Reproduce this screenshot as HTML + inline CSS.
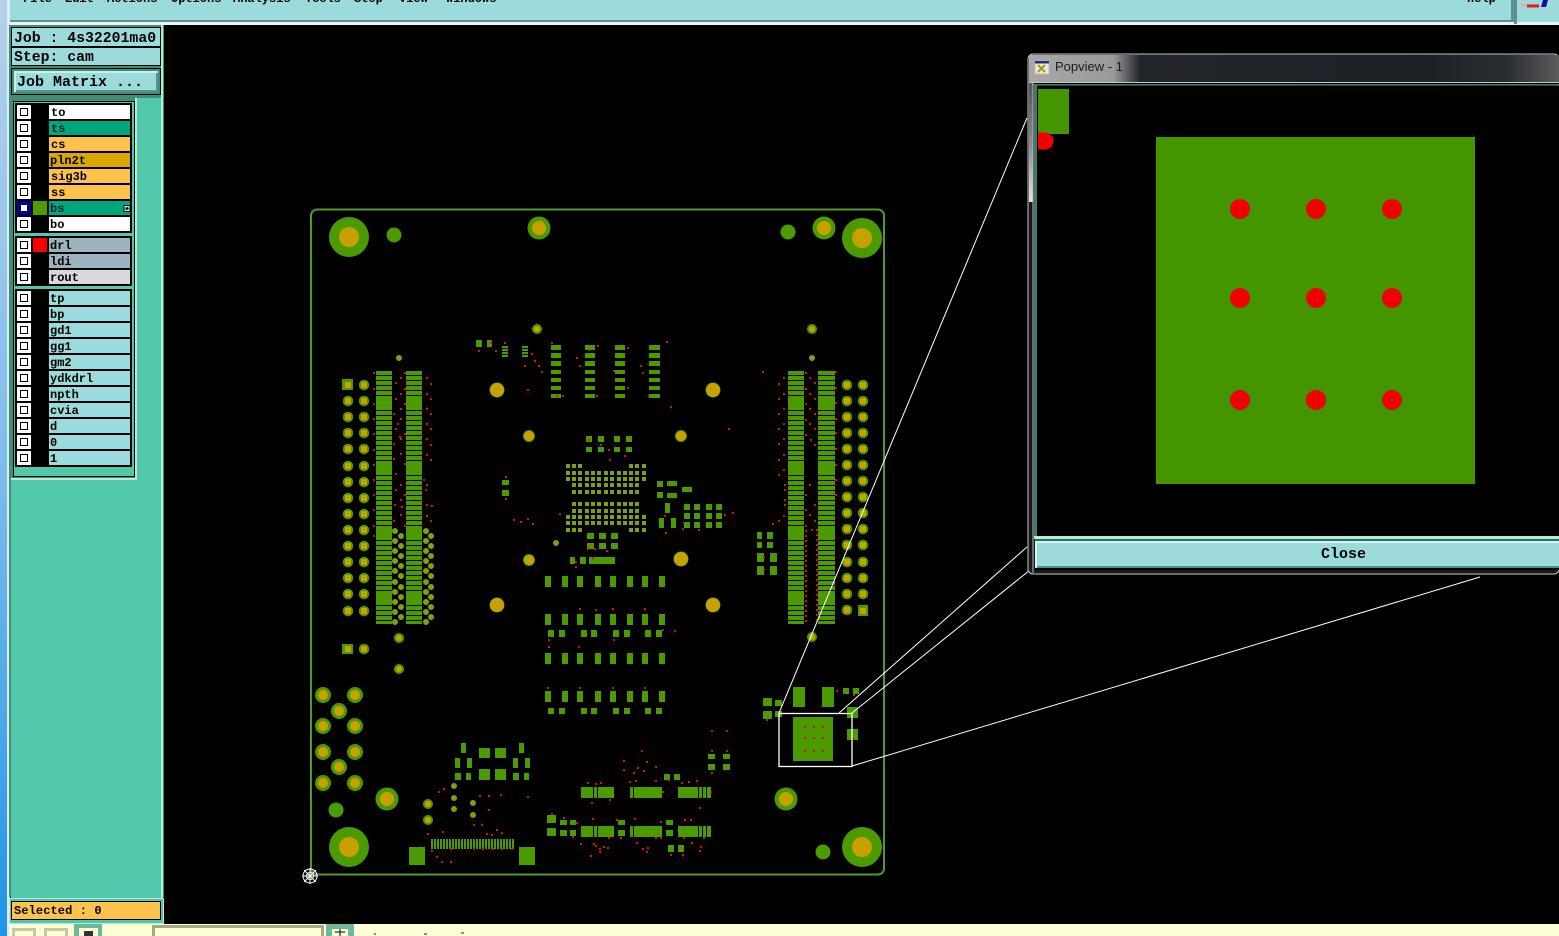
<!DOCTYPE html>
<html><head><meta charset="utf-8"><title>Popview</title>
<style>
html,body{margin:0;padding:0;background:#000;width:1559px;height:936px;overflow:hidden}
svg{display:block}
text{font-family:"Liberation Mono",monospace;font-weight:bold;fill:#000}
.l text{font-size:12px}
</style></head><body>
<svg width="1559" height="936" viewBox="0 0 1559 936" fill="none" xmlns="http://www.w3.org/2000/svg">
<defs>
<linearGradient id="edge" x1="0" y1="0" x2="0" y2="1"><stop offset="0" stop-color="#b4d0ec"/><stop offset=".5" stop-color="#7fbcec"/><stop offset="1" stop-color="#1f94e8"/></linearGradient>
<linearGradient id="tb" x1="0" y1="0" x2="1" y2="0"><stop offset="0" stop-color="#a8a8a8"/><stop offset=".16" stop-color="#9a9a9a"/><stop offset=".21" stop-color="#22252a"/><stop offset=".75" stop-color="#1d2126"/><stop offset=".9" stop-color="#2a2d30"/><stop offset="1" stop-color="#5a5c5e"/></linearGradient>
<linearGradient id="sb" x1="0" y1="0" x2="0" y2="1"><stop offset="0" stop-color="#555"/><stop offset=".5" stop-color="#8a8a8a"/><stop offset="1" stop-color="#e4e4e4"/></linearGradient>
<pattern id="bars" x="0" y="371" width="10" height="5" patternUnits="userSpaceOnUse"><rect width="10" height="4" fill="#4b9a00"/></pattern>
<pattern id="st3" x="431" y="0" width="3" height="10" patternUnits="userSpaceOnUse"><rect width="2" height="10" fill="#4b9a00"/></pattern>
<pattern id="st3b" x="502" y="346" width="10" height="3" patternUnits="userSpaceOnUse"><rect width="10" height="2" fill="#4b9a00"/></pattern>
</defs>

<rect width="1559" height="936" fill="#000"/>
<!-- left edge -->
<rect x="0" y="0" width="7" height="936" fill="url(#edge)"/>
<rect x="7" y="0" width="3" height="936" fill="#dfeef5"/>

<!-- menu bar -->
<rect x="10" y="0" width="1549" height="25" fill="#e6f6f6"/>
<rect x="10" y="0" width="1505" height="22" fill="#5f8f8f"/>
<rect x="10" y="0" width="1501" height="20" fill="#9cdbdb"/>
<rect x="1515" y="0" width="44" height="22" fill="#9cdbdb"/>
<rect x="1514" y="0" width="3" height="24" fill="#5f8f8f"/>
<g style="font-size:12px">
<text x="23" y="2" font-size="12">File</text><text x="65" y="2" font-size="12">Edit</text><text x="107" y="2" font-size="12">Actions</text><text x="171" y="2" font-size="12">Options</text><text x="233" y="2" font-size="12">Analysis</text><text x="305" y="2" font-size="12">Tools</text><text x="354" y="2" font-size="12">Step</text><text x="399" y="2" font-size="12">View</text><text x="446" y="2" font-size="12">Windows</text><text x="1467" y="2" font-size="12">Help</text>
</g>
<path d="M1521 5h18" stroke="#ff9a9a" stroke-width="2"/><path d="M1527 6h12" stroke="#e02020" stroke-width="3"/><path d="M1543 0l-2 7h5l2-7z" fill="#101090"/>

<!-- left panel -->
<rect x="9" y="25" width="155" height="872" fill="#3f8f78"/>
<rect x="136" y="98" width="27" height="799" fill="#52c8ab"/>
<rect x="11" y="480" width="152" height="418" fill="#52c8ab"/>
<rect x="11" y="478" width="126" height="2" fill="#b8ead8"/>
<rect x="135" y="98" width="2" height="382" fill="#b8ead8"/>
<rect x="161" y="25" width="2" height="900" fill="#b8ead8"/>
<rect x="11" y="27" width="150" height="20" fill="#000"/><rect x="12" y="28" width="148" height="18" fill="#9cdbdb"/>
<rect x="11" y="47" width="150" height="19" fill="#000"/><rect x="12" y="48" width="148" height="17" fill="#9cdbdb"/>
<text x="14" y="42" font-size="14.800">Job : 4s32201ma0</text>
<text x="14" y="61" font-size="14.800">Step: cam</text>
<rect x="11" y="68" width="150" height="27" fill="#000"/><rect x="12" y="69" width="148" height="25" fill="#3f8f78"/>
<rect x="14" y="71" width="144" height="21" fill="#c8f0f0"/><rect x="16" y="73" width="142" height="19" fill="#5f8f8f"/><rect x="16" y="73" width="140" height="17" fill="#9cdbdb"/>
<text x="17" y="86" font-size="15">Job Matrix ...</text>

<!-- layer list -->
<rect x="13" y="101" width="122" height="376" fill="#000"/>
<rect x="14" y="102" width="120" height="374" fill="#52c8ab"/>
<rect x="15" y="103" width="117" height="130" fill="#000"/>
<rect x="15" y="236" width="117" height="50" fill="#000"/>
<rect x="15" y="289" width="117" height="178" fill="#000"/>
<g fill="#fff">
<rect x="49" y="105" width="81" height="14"/><rect x="49" y="217" width="81" height="14"/>
</g>
<g fill="#00a67c"><rect x="49" y="121" width="81" height="14"/><rect x="49" y="201" width="81" height="14"/></g>
<g fill="#ffc34d"><rect x="49" y="137" width="81" height="14"/><rect x="49" y="169" width="81" height="14"/><rect x="49" y="185" width="81" height="14"/></g>
<rect x="49" y="153" width="81" height="14" fill="#dba800"/>
<g fill="#9cb3bf"><rect x="49" y="238" width="81" height="14"/><rect x="49" y="254" width="81" height="14"/></g>
<rect x="49" y="270" width="81" height="14" fill="#d9d9d9"/>
<g fill="#9cdbdb">
<rect x="49" y="291" width="81" height="14"/><rect x="49" y="307" width="81" height="14"/><rect x="49" y="323" width="81" height="14"/><rect x="49" y="339" width="81" height="14"/><rect x="49" y="355" width="81" height="14"/><rect x="49" y="371" width="81" height="14"/><rect x="49" y="387" width="81" height="14"/><rect x="49" y="403" width="81" height="14"/><rect x="49" y="419" width="81" height="14"/><rect x="49" y="435" width="81" height="14"/><rect x="49" y="451" width="81" height="14"/>
</g>
<rect x="33" y="201" width="14" height="14" fill="#4b9a00"/>
<rect x="33" y="238" width="14" height="14" fill="#ff0000"/>
<path stroke="#fff" stroke-width="14" d="M17 112h14M17 128h14M17 144h14M17 160h14M17 176h14M17 192h14M17 224h14M17 245h14M17 261h14M17 277h14M17 298h14M17 314h14M17 330h14M17 346h14M17 362h14M17 378h14M17 394h14M17 410h14M17 426h14M17 442h14M17 458h14"/>
<rect x="17" y="201" width="14" height="14" fill="#000090" rx="2"/>
<path stroke="#000" stroke-width="8" d="M20 112h8M20 128h8M20 144h8M20 160h8M20 176h8M20 192h8M20 224h8M20 245h8M20 261h8M20 277h8M20 298h8M20 314h8M20 330h8M20 346h8M20 362h8M20 378h8M20 394h8M20 410h8M20 426h8M20 442h8M20 458h8"/>
<path stroke="#fff" stroke-width="6" d="M21 112h6M21 128h6M21 144h6M21 160h6M21 176h6M21 192h6M21 208h6M21 224h6M21 245h6M21 261h6M21 277h6M21 298h6M21 314h6M21 330h6M21 346h6M21 362h6M21 378h6M21 394h6M21 410h6M21 426h6M21 442h6M21 458h6"/>
<path stroke="#000" stroke-width="1" d="M124 205.500h6v6h-6zM127 205v6M124 208.500h6"/><path stroke="#fff" stroke-width="1" d="M125 206.500h4v4h-4z" opacity=".8"/>
<g class="l">
<text x="51" y="116">to</text><text x="51" y="132" style="fill:#023">ts</text><text x="51" y="148">cs</text><text x="50" y="164">pln2t</text><text x="51" y="180">sig3b</text><text x="51" y="196">ss</text><text x="50" y="212" style="fill:#023">bs</text><text x="50" y="228">bo</text>
<text x="50" y="249">drl</text><text x="50" y="265">ldi</text><text x="50" y="281">rout</text>
<text x="50" y="302">tp</text><text x="50" y="318">bp</text><text x="50" y="334">gd1</text><text x="50" y="350">gg1</text><text x="50" y="366">gm2</text><text x="50" y="382">ydkdrl</text><text x="50" y="398">npth</text><text x="50" y="414">cvia</text><text x="50" y="430">d</text><text x="50" y="446">0</text><text x="50" y="462">1</text>
</g>
<rect x="9" y="898" width="155" height="26" fill="#b8ead8"/>
<rect x="10" y="899" width="153" height="24" fill="#52c8ab"/>
<rect x="11" y="901" width="150" height="19" fill="#000"/><rect x="12" y="902" width="148" height="17" fill="#ffc34d"/>
<text x="14" y="914" font-size="12" style="letter-spacing:.1px">Selected : 0</text>

<!-- bottom bar -->
<rect x="10" y="924" width="1549" height="12" fill="#ffffd6"/>
<rect x="74" y="924" width="28" height="12" fill="#6fb8a0"/>
<rect x="12" y="928" width="24" height="8" fill="#c8c8a8"/><rect x="15" y="931" width="18" height="5" fill="#ffffd6"/>
<rect x="44" y="928" width="24" height="8" fill="#c8c8a8"/><rect x="47" y="931" width="18" height="5" fill="#ffffd6"/>
<rect x="79" y="928" width="19" height="8" fill="#ffffd6"/><rect x="84" y="931" width="9" height="5" fill="#333"/>
<rect x="152" y="925" width="172" height="11" fill="#a8a880"/><rect x="155" y="928" width="166" height="8" fill="#ffffd6"/>
<rect x="326" y="924" width="28" height="12" fill="#6fb8a0"/><rect x="332" y="929" width="16" height="7" fill="#ffffd6"/><path stroke="#000" d="M340 929v7M335 932h10"/>
<path stroke="#222" stroke-width="1" d="M374 934h2M424 934h3M461 933h3"/>

<!-- board outline -->
<rect x="311" y="209.500" width="573" height="665" rx="6" stroke="#4f9a2a" stroke-width="2" fill="none"/>

<!-- big pads -->
<path stroke="#4b9a00" stroke-linecap="round" stroke-width="40" d="M349 237h0M862 238h0M349 847h0M862 847h0"/>
<path stroke="#c8a000" stroke-linecap="round" stroke-width="20" d="M349 237h0M862 238h0M349 847h0M862 847h0"/>
<path stroke="#4b9a00" stroke-linecap="round" stroke-width="23" d="M539 228h0M824 228h0M387 799h0M786 799h0"/>
<path stroke="#c8a000" stroke-linecap="round" stroke-width="14" d="M539 228h0M824 228h0M387 799h0M786 799h0"/>
<path stroke="#4b9a00" stroke-linecap="round" stroke-width="15" d="M394 235h0M788 232h0M336 810h0M823 852h0"/>
<path stroke="#4b9a00" stroke-linecap="round" stroke-width="16" d="M323 695h0M355 695h0M339 711h0M323 726h0M355 726h0M323 752h0M355 752h0M339 767h0M323 783h0M355 783h0"/>
<path stroke="#c8a000" stroke-linecap="round" stroke-width="10" d="M323 695h0M355 695h0M339 711h0M323 726h0M355 726h0M323 752h0M355 752h0M339 767h0M323 783h0M355 783h0"/>
<!-- tooling -->
<path stroke="#4b9a00" stroke-linecap="round" stroke-width="15" d="M497 390h0M713 390h0M497 605h0M713 605h0M681 559h0"/>
<path stroke="#c8a000" stroke-linecap="round" stroke-width="14" d="M497 390h0M713 390h0M497 605h0M713 605h0M681 559h0"/>
<path stroke="#4b9a00" stroke-linecap="round" stroke-width="12" d="M529 436h0M681 436h0M529 560h0"/>
<path stroke="#c8a000" stroke-linecap="round" stroke-width="10" d="M529 436h0M681 436h0M529 560h0"/>
<path stroke="#4b9a00" stroke-linecap="round" stroke-width="10" d="M537 329h0M812 329h0M399 638h0M399 669h0M812 637h0M428 804h0M428 820h0"/>
<path stroke="#c8a000" stroke-linecap="round" stroke-width="6" d="M537 329h0M812 329h0M399 638h0M399 669h0M812 637h0M428 804h0M428 820h0"/>
<path stroke="#7fa010" stroke-linecap="round" stroke-width="6" d="M399 358h0M812 358h0M556 543h0M454 786h0M454 798h0M454 809h0M473 803h0M473 815h0"/>

<!-- memory connectors -->
<rect x="376" y="371" width="16" height="253" fill="url(#bars)"/><rect x="406" y="371" width="16" height="253" fill="url(#bars)"/>
<rect x="788" y="371" width="16" height="253" fill="url(#bars)"/><rect x="818" y="371" width="17" height="253" fill="url(#bars)"/>
<path stroke="#4b9a00" stroke-width="10" d="M376 401h16M406 401h16M788 401h16M818 401h17M376 467h16M406 467h16M788 467h16M818 467h17M376 533h16M406 533h16M788 533h16M818 533h17M376 599h16M406 599h16M788 599h16M818 599h17"/>

<!-- thru pads -->
<path stroke="#4b9a00" stroke-linecap="round" stroke-width="10.500" d="M348 401h0M348 417h0M348 433h0M348 449h0M348 466h0M348 482h0M348 498h0M348 514h0M348 530h0M348 546h0M348 562h0M348 578h0M348 594h0M348 611h0M364 385h0M364 401h0M364 417h0M364 433h0M364 449h0M364 466h0M364 482h0M364 498h0M364 514h0M364 530h0M364 546h0M364 562h0M364 578h0M364 594h0M364 611h0M364 649h0M847 385h0M847 401h0M847 417h0M847 433h0M847 449h0M847 465h0M847 481h0M847 497h0M847 513h0M847 529h0M847 545h0M847 562h0M847 578h0M847 594h0M847 610h0M863 385h0M863 401h0M863 417h0M863 433h0M863 449h0M863 465h0M863 481h0M863 497h0M863 513h0M863 529h0M863 545h0M863 562h0M863 578h0M863 594h0"/>
<rect x="342" y="379" width="11" height="11" fill="#4b9a00"/><rect x="342" y="644" width="11" height="10" fill="#4b9a00"/><rect x="858" y="605" width="10" height="11" fill="#4b9a00"/>
<path stroke="#c8a000" stroke-width="6" d="M345 385h6M345 401h6M345 417h6M345 433h6M345 449h6M345 466h6M345 482h6M345 498h6M345 514h6M345 530h6M345 546h6M345 562h6M345 578h6M345 594h6M345 611h6M361 385h6M361 401h6M361 417h6M361 433h6M361 449h6M361 466h6M361 482h6M361 498h6M361 514h6M361 530h6M361 546h6M361 562h6M361 578h6M361 594h6M361 611h6M345 649h6M361 649h6M844 385h6M844 401h6M844 417h6M844 433h6M844 449h6M844 465h6M844 481h6M844 497h6M844 513h6M844 529h6M844 545h6M844 562h6M844 578h6M844 594h6M844 610h6M860 385h6M860 401h6M860 417h6M860 433h6M860 449h6M860 465h6M860 481h6M860 497h6M860 513h6M860 529h6M860 545h6M860 562h6M860 578h6M860 594h6M860 611h6"/>
<!-- staggered vias -->
<path stroke="#7fa010" stroke-linecap="round" stroke-width="6" d="M395 531h0M395 541h0M395 551h0M395 561h0M395 571h0M395 582h0M395 592h0M395 602h0M395 612h0M395 622h0M401 536h0M401 546h0M401 556h0M401 566h0M401 576h0M401 587h0M401 597h0M401 607h0M401 617h0M426 531h0M426 541h0M426 551h0M426 561h0M426 571h0M426 582h0M426 592h0M426 602h0M426 612h0M426 622h0M431 536h0M431 546h0M431 556h0M431 566h0M431 576h0M431 587h0M431 597h0M431 607h0M431 617h0"/>

<!-- green rects -->
<g fill="#4b9a00">
<!-- top center -->
<rect x="476" y="340" width="6" height="7"/><rect x="487" y="340" width="5" height="7"/>
<rect x="502" y="346" width="6" height="12" fill="url(#st3b)"/><rect x="522" y="346" width="6" height="12" fill="url(#st3b)"/>
<rect x="551" y="345" width="10" height="5"/><rect x="551" y="353" width="10" height="5"/><rect x="551" y="361" width="10" height="5"/><rect x="551" y="370" width="10" height="4"/><rect x="551" y="378" width="10" height="4"/><rect x="551" y="386" width="10" height="4"/><rect x="551" y="394" width="10" height="4"/>
<rect x="585" y="345" width="10" height="5"/><rect x="585" y="353" width="10" height="5"/><rect x="585" y="361" width="10" height="5"/><rect x="585" y="370" width="10" height="4"/><rect x="585" y="378" width="10" height="4"/><rect x="585" y="386" width="10" height="4"/><rect x="585" y="394" width="10" height="4"/>
<rect x="615" y="345" width="10" height="5"/><rect x="615" y="353" width="10" height="5"/><rect x="615" y="361" width="10" height="5"/><rect x="615" y="370" width="10" height="4"/><rect x="615" y="378" width="10" height="4"/><rect x="615" y="386" width="10" height="4"/><rect x="615" y="394" width="10" height="4"/>
<rect x="649" y="345" width="11" height="5"/><rect x="649" y="353" width="11" height="5"/><rect x="649" y="361" width="11" height="5"/><rect x="649" y="370" width="11" height="4"/><rect x="649" y="378" width="11" height="4"/><rect x="649" y="386" width="11" height="4"/><rect x="649" y="394" width="11" height="4"/>
<rect x="586" y="436" width="6" height="6"/><rect x="598" y="436" width="6" height="6"/><rect x="614" y="436" width="6" height="6"/><rect x="626" y="436" width="6" height="6"/>
<rect x="586" y="447" width="6" height="5"/><rect x="598" y="447" width="6" height="5"/><rect x="614" y="447" width="6" height="5"/><rect x="626" y="447" width="6" height="5"/>
<rect x="502" y="480" width="7" height="5"/><rect x="502" y="490" width="7" height="6"/>
<!-- right of BGA -->
<rect x="657" y="481" width="6" height="6"/><rect x="667" y="481" width="10" height="5"/><rect x="682" y="487" width="10" height="5"/><rect x="657" y="492" width="6" height="6"/><rect x="667" y="493" width="10" height="5"/><rect x="665" y="503" width="5" height="10"/><rect x="659" y="518" width="5" height="10"/><rect x="671" y="518" width="5" height="10"/>
<rect x="684" y="504" width="6" height="6"/><rect x="694" y="504" width="6" height="6"/><rect x="706" y="504" width="6" height="6"/><rect x="716" y="504" width="6" height="6"/>
<rect x="684" y="513" width="6" height="6"/><rect x="694" y="513" width="6" height="6"/><rect x="706" y="513" width="6" height="6"/><rect x="716" y="513" width="6" height="6"/>
<rect x="684" y="522" width="6" height="6"/><rect x="694" y="522" width="6" height="6"/><rect x="706" y="522" width="6" height="6"/><rect x="716" y="522" width="6" height="6"/>
<!-- under BGA -->
<rect x="587" y="533" width="7" height="6"/><rect x="599" y="533" width="7" height="6"/><rect x="611" y="533" width="7" height="6"/>
<rect x="587" y="543" width="7" height="6"/><rect x="599" y="543" width="7" height="6"/><rect x="611" y="543" width="7" height="6"/>
<rect x="570" y="557" width="5" height="7"/><rect x="580" y="557" width="6" height="7"/><rect x="589" y="557" width="26" height="7"/>
<!-- right cluster left of connector -->
<rect x="757" y="532" width="5" height="7"/><rect x="767" y="532" width="6" height="7"/><rect x="757" y="542" width="5" height="6"/><rect x="767" y="542" width="6" height="6"/><rect x="757" y="553" width="7" height="9"/><rect x="770" y="553" width="7" height="9"/><rect x="757" y="566" width="7" height="9"/><rect x="770" y="566" width="7" height="9"/>
<!-- bottom right -->
<rect x="763" y="698" width="9" height="8"/><rect x="775" y="700" width="7" height="6"/><rect x="763" y="711" width="9" height="8"/><rect x="775" y="711" width="7" height="6"/>
<rect x="793" y="687" width="12" height="20"/><rect x="822" y="687" width="12" height="20"/><rect x="843" y="688" width="6" height="6"/><rect x="853" y="688" width="6" height="6"/><rect x="847" y="707" width="11" height="11"/><rect x="847" y="729" width="11" height="11"/>
<rect x="793" y="717" width="40" height="44"/>
<rect x="708" y="754" width="7" height="5"/><rect x="723" y="754" width="7" height="5"/><rect x="708" y="764" width="7" height="6"/><rect x="723" y="764" width="7" height="6"/>
<!-- bottom middle -->
<rect x="664" y="774" width="6" height="6"/><rect x="674" y="774" width="6" height="6"/>
<rect x="581" y="787" width="12" height="11"/><rect x="594" y="787" width="3" height="11"/><rect x="598" y="787" width="16" height="11"/><rect x="630" y="787" width="3" height="11"/><rect x="634" y="787" width="28" height="11"/><rect x="678" y="787" width="20" height="11"/><rect x="699" y="787" width="3" height="11"/><rect x="703" y="787" width="3" height="11"/><rect x="707" y="787" width="4" height="11"/>
<rect x="581" y="826" width="12" height="11"/><rect x="594" y="826" width="3" height="11"/><rect x="598" y="826" width="16" height="11"/><rect x="630" y="826" width="3" height="11"/><rect x="634" y="826" width="28" height="11"/><rect x="678" y="826" width="20" height="11"/><rect x="699" y="826" width="3" height="11"/><rect x="703" y="826" width="3" height="11"/><rect x="707" y="826" width="4" height="11"/>
<rect x="547" y="815" width="9" height="8"/><rect x="547" y="828" width="9" height="8"/><rect x="560" y="820" width="7" height="5"/><rect x="560" y="830" width="7" height="6"/><rect x="570" y="820" width="6" height="5"/><rect x="570" y="830" width="6" height="6"/>
<rect x="618" y="820" width="7" height="5"/><rect x="618" y="830" width="7" height="6"/><rect x="666" y="820" width="7" height="5"/><rect x="666" y="830" width="7" height="6"/><rect x="668" y="845" width="6" height="7"/><rect x="678" y="845" width="6" height="7"/>
<!-- bottom left -->
<rect x="461" y="743" width="5" height="10"/><rect x="519" y="743" width="5" height="10"/><rect x="455" y="758" width="5" height="10"/><rect x="467" y="758" width="5" height="10"/><rect x="513" y="758" width="5" height="10"/><rect x="525" y="758" width="5" height="10"/>
<rect x="479" y="748" width="11" height="10"/><rect x="495" y="748" width="11" height="10"/><rect x="479" y="769" width="11" height="11"/><rect x="495" y="769" width="11" height="11"/>
<rect x="455" y="773" width="6" height="7"/><rect x="466" y="773" width="5" height="7"/><rect x="513" y="773" width="6" height="7"/><rect x="524" y="773" width="5" height="7"/>
<rect x="431" y="839" width="83" height="10" fill="url(#st3)"/>
<rect x="409" y="847" width="16" height="18"/><rect x="519" y="847" width="16" height="18"/>
</g>
<!-- pad rows -->
<path stroke="#4b9a00" stroke-width="6" d="M545 576v11M562 576v11M577 576v11M595 576v11M610 576v11M627 576v11M642 576v11M659 576v11M545 614v11M562 614v11M577 614v11M595 614v11M610 614v11M627 614v11M642 614v11M659 614v11M545 653v11M562 653v11M577 653v11M595 653v11M610 653v11M627 653v11M642 653v11M659 653v11M545 691v11M562 691v11M577 691v11M595 691v11M610 691v11M627 691v11M642 691v11M659 691v11" transform="translate(3 0)"/>
<path stroke="#4b9a00" stroke-width="6" d="M549 630v7M560 630v7M582 630v7M592 630v7M614 630v7M625 630v7M646 630v7M657 630v7M549 708v6M560 708v6M582 708v6M592 708v6M614 708v6M625 708v6M646 708v6M657 708v6" transform="translate(2 0)"/>
<!-- BGA -->
<path stroke="#7fa010" stroke-width="4" d="M568 466h4M574 466h4M580 466h4M631 466h4M637 466h4M644 466h4
M568 473h4M574 473h4M580 473h4M587 473h4M593 473h4M599 473h4M606 473h4M612 473h4M619 473h4M625 473h4M631 473h4M637 473h4M644 473h4
M568 479h4M574 479h4M580 479h4M587 479h4M593 479h4M599 479h4M606 479h4M612 479h4M619 479h4M625 479h4M631 479h4M637 479h4M644 479h4
M574 485h4M580 485h4M587 485h4M593 485h4M599 485h4M606 485h4M612 485h4M619 485h4M625 485h4M631 485h4M637 485h4
M574 492h4M580 492h4M587 492h4M593 492h4M599 492h4M606 492h4M612 492h4M619 492h4M625 492h4M631 492h4M637 492h4
M574 504h4M580 504h4M587 504h4M593 504h4M599 504h4M606 504h4M612 504h4M619 504h4M625 504h4M631 504h4M637 504h4
M574 511h4M580 511h4M587 511h4M593 511h4M599 511h4M606 511h4M612 511h4M619 511h4M625 511h4M631 511h4M637 511h4
M568 517h4M574 517h4M580 517h4M587 517h4M593 517h4M599 517h4M606 517h4M612 517h4M619 517h4M625 517h4M631 517h4M637 517h4M644 517h4
M568 523h4M574 523h4M580 523h4M587 523h4M593 523h4M599 523h4M606 523h4M612 523h4M619 523h4M625 523h4M631 523h4M637 523h4M644 523h4
M568 530h4M574 530h4M580 530h4M631 530h4M637 530h4M644 530h4" transform="translate(-2 0)"/>

<!-- red drill dots -->
<path stroke="#e01010" stroke-width="2" d="
M373 373h2M373 389h2M373 404h2M373 419h2M373 434h2M373 450h2M373 465h2M373 480h2M373 495h2M373 510h2M373 526h2M373 536h2
M404 373h2M400 378h2M395 383h2M404 389h2M400 394h2M395 399h2M404 404h2M400 409h2M393 414h2M400 419h2M404 434h2M400 439h2M393 444h2M397 424h2M395 429h2M399 437h2M393 459h2M400 454h2M404 464h2M395 474h2M400 485h2M395 490h2M404 495h2M400 500h2M394 505h2M401 507h2M400 515h2M393 521h2M404 526h2
M426 378h2M430 384h2M426 394h2M430 399h2M426 409h2M430 414h2M426 424h2M430 429h2M426 439h2M430 445h2M426 455h2M430 460h2M423 480h2M426 485h2M425 490h2M426 505h2M431 506h2M426 516h2M430 521h2
M490 343h2M478 351h2M495 351h2M504 343h2M531 354h2M534 361h2M524 366h2M538 366h2M541 372h2M551 343h2M527 390h2M556 396h2M562 396h2M576 358h2M579 366h2M597 346h2M596 396h2M627 348h2M627 388h2M613 371h2M640 366h2M642 373h2M648 396h2M666 342h2M670 407h2M728 429h2M588 350h2M588 440h2M600 445h2M609 460h2M624 456h2
M513 520h2M520 522h2M527 519h2M532 524h2M559 514h2M608 450h2M592 558h2M594 549h2M606 551h2M587 549h2M575 562h2M575 567h2M505 477h2M505 499h2M665 533h2M682 529h2M724 515h2M732 513h2M683 523h2M664 516h2M698 530h2
M762 372h2M783 378h2M778 384h2M783 394h2M778 399h2M783 409h2M778 414h2M783 424h2M778 429h2M783 439h2M778 444h2M783 455h2M778 460h2M783 470h2M778 475h2M784 485h2M784 490h2M784 500h2M784 505h2M783 516h2M778 521h2M772 524h2
M805 373h2M809 378h2M814 383h2M805 389h2M809 394h2M814 399h2M805 404h2M809 409h2M814 414h2M805 420h2M809 424h2M814 429h2M805 435h2M810 440h2M814 445h2M809 485h2M805 495h2M814 505h2M805 510h2M809 515h2M814 521h2
M835 372h2M835 388h2M835 403h2M835 419h2M835 433h2M835 449h2M835 465h2M835 480h2M835 495h2
M805 526h2M805 531h2M805 536h2M805 541h2M805 546h2M805 551h2M805 556h2M805 561h2M805 566h2M805 571h2M805 576h2M805 581h2M805 586h2M805 591h2M805 596h2M805 601h2M805 606h2M805 611h2M805 616h2M805 621h2
M816 530h2M816 535h2M816 540h2M816 545h2M816 550h2M816 555h2M816 560h2M816 565h2M816 570h2M816 575h2M816 580h2M816 585h2M816 590h2M816 595h2M816 600h2M816 605h2M816 610h2M816 615h2M816 620h2M811 530h2
M763 557h2M763 570h2
M579 609h2M612 609h2M613 640h2M644 609h2M674 631h2M548 640h2M595 610h2M662 630h2
M547 688h2M579 688h2M612 688h2M644 688h2M548 647h2M578 647h2
M711 731h2M726 731h2M711 751h2M726 751h2M711 773h2M804 727h2M813 727h2M822 727h2M804 738h2M813 738h2M822 738h2M804 751h2M813 751h2M822 751h2M836 691h2M853 695h2M852 739h2M766 720h2
M641 751h2M623 761h2M646 762h2M655 767h2M623 770h2M633 773h2M643 771h2M637 768h2M635 781h2M629 782h2M655 781h2M600 783h2M587 783h2M595 784h2M609 800h2M662 792h2M668 780h2M688 782h2M681 783h2M696 781h2M710 792h2M699 808h2
M551 814h2M563 818h2M576 823h2M572 837h2M592 819h2M593 844h2M599 849h2M603 847h2M590 856h2M599 852h2M607 848h2M616 820h2M608 838h2M620 838h2M634 819h2M636 843h2M642 849h2M647 848h2M646 852h2M655 838h2M660 822h2M684 820h2M683 838h2M691 843h2M700 847h2M699 851h2M670 855h2M682 855h2M660 838h2M703 838h2M690 820h2
M438 792h2M443 789h2M479 796h2M488 796h2M488 810h2M500 795h2M473 825h2M481 825h2M427 834h2M442 832h2M486 834h2M491 835h2M496 830h2M501 833h2M431 851h2M436 857h2M441 862h2M450 862h2M450 849h2M473 849h2M482 849h2M492 849h2M501 849h2M511 849h2M527 797h2
M591 803h2M595 846h2M580 844h2"/>

<!-- zoom box and lines -->
<rect x="779" y="713.500" width="73" height="53" fill="none" stroke="#fff" stroke-width="1.300"/>
<path stroke="#fff" stroke-width="1" d="M779 713L1027 118M839 713L1027 547M852 713L1030 570M852 766L1480 577"/>

<!-- star origin -->
<g stroke="#fff" stroke-width="1"><circle cx="310" cy="876" r="7" fill="none"/><circle cx="310" cy="876" r="3.500" fill="none"/><path d="M302 876h16M310 868v16M304 870l12 12M316 870l-12 12"/></g>

<!-- popup window -->
<rect x="1028" y="54" width="531" height="520" rx="5" fill="#15181c" stroke="#c8c8c8" stroke-width="1"/>
<rect x="1029" y="55" width="530" height="27" fill="url(#tb)"/>
<rect x="1029" y="83" width="3.500" height="119" fill="url(#sb)"/>
<rect x="1029" y="82" width="530" height="1" fill="#c8c8c8"/>
<rect x="1033" y="83" width="526" height="1" fill="#000"/>
<rect x="1033" y="84" width="526" height="1.500" fill="#3f7a6a"/>
<rect x="1032.500" y="83" width="1" height="490" fill="#bbb"/>
<rect x="1034" y="84" width="3" height="453" fill="#3f7a6a"/>
<rect x="1037" y="86" width="522" height="451" fill="#000"/>
<rect x="1034" y="536" width="525" height="3" fill="#b8ead8"/>
<rect x="1035" y="539" width="524" height="2" fill="#1f7a5a"/>
<rect x="1035" y="541" width="524" height="27" fill="#d8f4f4"/>
<rect x="1037" y="543" width="522" height="25" fill="#4f8f80"/>
<rect x="1037" y="543" width="522" height="23" fill="#9cdbdb"/>
<rect x="1035" y="568" width="524" height="2" fill="#000"/>
<rect x="1035" y="61" width="14" height="13" fill="#e8e8e0" stroke="#bbb"/><rect x="1035" y="61" width="14" height="2.500" fill="#203080"/>
<path stroke="#a8a000" stroke-width="2" d="M1038 65l7 7M1045 65l-7 7"/>
<text x="1055" y="71" font-size="13" style="font-family:'Liberation Sans',sans-serif;font-weight:normal;fill:#1a1a22">Popview - 1</text>
<text x="1321" y="558" font-size="15">Close</text>
<!-- popup content -->
<rect x="1156" y="137" width="319" height="347" fill="#439600"/>
<rect x="1038" y="89" width="31" height="45" fill="#439600"/>
<path d="M1038 132.500h7a8.500 8.500 0 0 1 0 17h-7z" fill="#f00000"/>
<path stroke="#f00000" stroke-linecap="round" stroke-width="20" d="M1240 209h0M1316 209h0M1392 209h0M1240 298h0M1316 298h0M1392 298h0M1240 400h0M1316 400h0M1392 400h0"/>
</svg>
</body></html>
